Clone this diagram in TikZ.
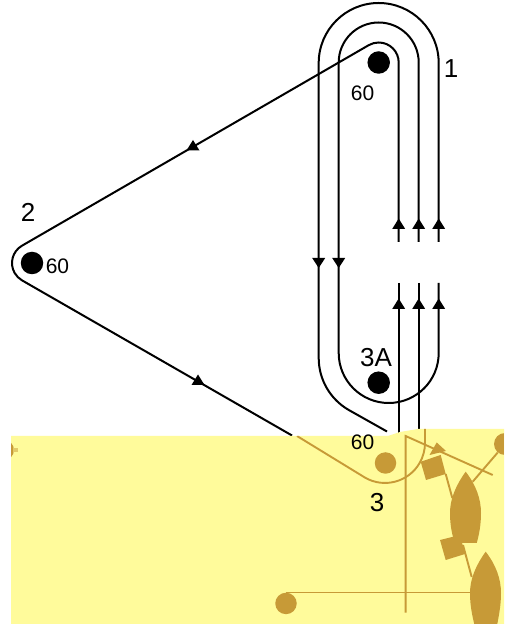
\documentclass[tikz,border=0pt]{standalone}
\usepackage{fontspec}
\setmainfont{Liberation Sans}
\definecolor{seayellow}{HTML}{FFFB9B}
\definecolor{landbrown}{HTML}{C79A37}
\tikzset{
  x=1pt,y=1pt,
  route/.style={draw=black,line width=2pt},
  landline/.style={draw=landbrown,line width=1.9pt},
  markblack/.style={circle,fill=black,draw=none,minimum size=22.5pt,inner sep=0pt},
  markbrown/.style={circle,fill=landbrown,draw=none,minimum size=21.5pt,inner sep=0pt},
  biglabel/.style={font=\fontsize{26}{26}\selectfont,inner sep=0pt},
  smalllabel/.style={font=\fontsize{21}{21}\selectfont,inner sep=0pt},
  upmark/.pic={\fill[black] (-6.5,-5) -- (0,5.5) -- (6.5,-5) -- cycle;},
  downmark/.pic={\fill[black] (-6.5,5) -- (0,-5) -- (6.5,5) -- cycle;},
}
\begin{document}
\begin{tikzpicture}
\useasboundingbox (0,0) rectangle (504,627);
% buoys
\node[markblack] (n1) at (378.7,564.5) {};
\node[markblack] (n2) at (32,364) {};
\node[markblack] (n3a) at (378.7,244.3) {};
% free ends
\coordinate (ua) at (398.7,385);
\coordinate (ub) at (418.7,385);
\coordinate (uc) at (438.7,385);
\coordinate (la) at (398.7,344);
\coordinate (lb) at (418.7,344);
\coordinate (lc) at (438.7,344);
\coordinate (ea) at (398.7,190);
\coordinate (eb) at (418.7,190);
\coordinate (eout) at (387,195.5);
\coordinate (elong) at (292,191.5);
% black routes
\draw[route] (ua) -- (398.7,564.5) arc (0:120:20) -- (22,381.3) arc (120:240:20) -- (elong);
\draw[route] (ub) -- (418.7,564.5) arc (0:180:40) -- (338.7,274) arc (180:360:50) -- (lc);
\draw[route] (uc) -- (438.7,564) arc (0:180:60) -- (318.7,269) arc (180:240:60) -- (eout);
\draw[route] (la) -- (ea);
\draw[route] (lb) -- (eb);
% arrowheads
\path (398.7,403) pic {upmark} (418.7,403) pic {upmark} (438.7,403) pic {upmark};
\path (398.7,323) pic {upmark} (418.7,323) pic {upmark} (438.7,323) pic {upmark};
\path (318.7,364) pic {downmark} (338.7,364) pic {downmark};
\path (193,481.5) pic {upmark} (198,247) pic {upmark};
% sea panel
\fill[seayellow] (11,191) -- (388,191) -- (400,195) -- (418,198) -- (504,198) -- (504,3) -- (11,3) -- cycle;
\begin{scope}
\clip (11,191) -- (388,191) -- (400,195) -- (418,198) -- (504,198) -- (504,3) -- (11,3) -- cycle;
\node[markbrown,minimum size=20pt] (w) at (4,177) {};
\fill[landbrown!50!seayellow] (13,175) rectangle (18,179);
\node[markbrown] (n3) at (385.5,164) {};
\node[markbrown,minimum size=22pt] (nt) at (505,183) {};
\node[markbrown] (nb) at (286,23.55) {};
\coordinate (rstart) at (297,191);
\coordinate (rend) at (425,198);
\coordinate (vtop) at (405.6,191);
\coordinate (vbot) at (405.6,14.3);
\coordinate (htop) at (492.7,152);
\coordinate (hend) at (475,34.3);
\draw[landline] (rstart) -- (365,149.4) arc (240:360:40) -- (rend);
\draw[landline] (vbot) -- (vtop) -- (htop);
\draw[landline] (nb.north) -- (nb.north -| hend);
\draw[landline] (445.7,153) -- (452.3,129);
\draw[landline] (472.7,145.3) -- (nt);
\draw[landline] (463,82) -- (471.7,50);
% triangle
\fill[landbrown] (436.7,184.5) -- (429.5,172) -- (446,176) -- cycle;
% squares
\fill[landbrown] (420.7,165.3) -- (440.7,172) -- (445.7,153) -- (426,147) -- cycle;
\fill[landbrown] (440,87) -- (460,92) -- (465,73) -- (445.7,67) -- cycle;
% boats
\fill[landbrown] (465.7,155.3) .. controls (456,142) and (450,128) .. (450,114)
  .. controls (450,102) and (452,92) .. (455,84) -- (476.7,84)
  .. controls (479,92) and (481,102) .. (481,114)
  .. controls (481,128) and (476,142) .. (465.7,155.3) -- cycle;
\fill[landbrown] (485.7,75.3) .. controls (476,62) and (470,48) .. (470,34)
  .. controls (470,22) and (472,12) .. (475,0) -- (496.7,0)
  .. controls (499,12) and (501,22) .. (501,34)
  .. controls (501,48) and (496,62) .. (485.7,75.3) -- cycle;
\end{scope}
% labels
\node[biglabel] (t1) at (451,558) {1};
\node[biglabel] (t2) at (28,415) {2};
\node[biglabel] (t3a) at (376,269) {3A};
\node[biglabel] (t3) at (377,124) {3};
\node[smalllabel] (s1) at (362.5,534) {60};
\node[smalllabel] (s2) at (57.5,361) {60};
\node[smalllabel] (s3) at (362.5,185) {60};
\end{tikzpicture}
\end{document}
